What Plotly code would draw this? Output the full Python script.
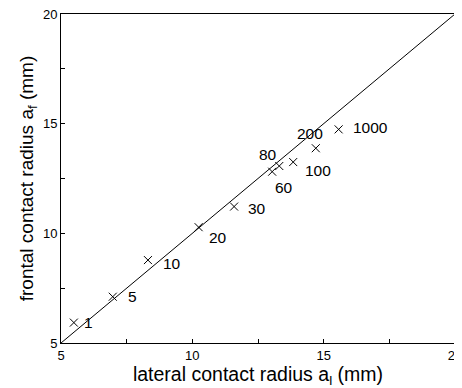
import plotly.graph_objects as go

labels = ["1", "5", "10", "20", "30", "60", "80", "100", "200", "1000"]
lateral = [5.49, 6.97, 8.31, 10.24, 11.59, 13.04, 13.31, 13.84, 14.70, 15.57]
frontal = [5.93, 7.11, 8.78, 10.28, 11.22, 12.81, 13.07, 13.25, 13.88, 14.74]
diag = [5, 20]
tick_vals = [5, 10, 15, 20]

# label offsets in pixels (style)
label_dx = [15, 20, 24, 19, 23, 12, -11, 25, -6, 32]
label_dy = [0, 0, -3, -10, -2, -16, 12, -8, 15, 2]

fig = go.Figure()
fig.add_trace(go.Scatter(x=diag, y=diag, mode="lines",
                         line=dict(color="black", width=1), showlegend=False,
                         cliponaxis=False))
fig.add_trace(go.Scatter(x=lateral, y=frontal, mode="markers",
                         marker=dict(symbol="x-thin", size=8, line=dict(color="black", width=1)),
                         showlegend=False))
for xv, yv, t, dx, dy in zip(lateral, frontal, labels, label_dx, label_dy):
    fig.add_annotation(x=xv, y=yv, text=t, showarrow=False, xshift=dx, yshift=dy,
                       font=dict(size=15.5, color="black", family="Liberation Sans, Arial"))

axis_common = dict(range=[5, 20], tickvals=tick_vals, ticks="inside", ticklen=4,
                   tickcolor="black", showline=True, linecolor="black", linewidth=1,
                   mirror=True, showgrid=False, zeroline=False, automargin=False,
                   ticklabeloverflow="allow",
                   tickfont=dict(size=13, color="black"),
                   minor=dict(tickvals=[7.5, 12.5, 17.5], ticks="inside", ticklen=4,
                              tickcolor="black"))
fig.update_xaxes(**axis_common, title=dict(text="lateral contact radius a<sub>l</sub> (mm)",
                 font=dict(size=19.5, color="black"), standoff=0))
fig.update_yaxes(**axis_common, title=dict(text="frontal contact radius a<sub>f</sub> (mm)",
                 font=dict(size=19, color="black"), standoff=4))
# page body has an 8px margin, so the figure is offset by (8, 8)
fig.update_layout(width=454, height=380, margin=dict(l=53, r=7, t=6, b=45),
                  plot_bgcolor="white", paper_bgcolor="white",
                  font=dict(family="Liberation Sans, Arial", color="black"))
fig.write_html("out.html")
